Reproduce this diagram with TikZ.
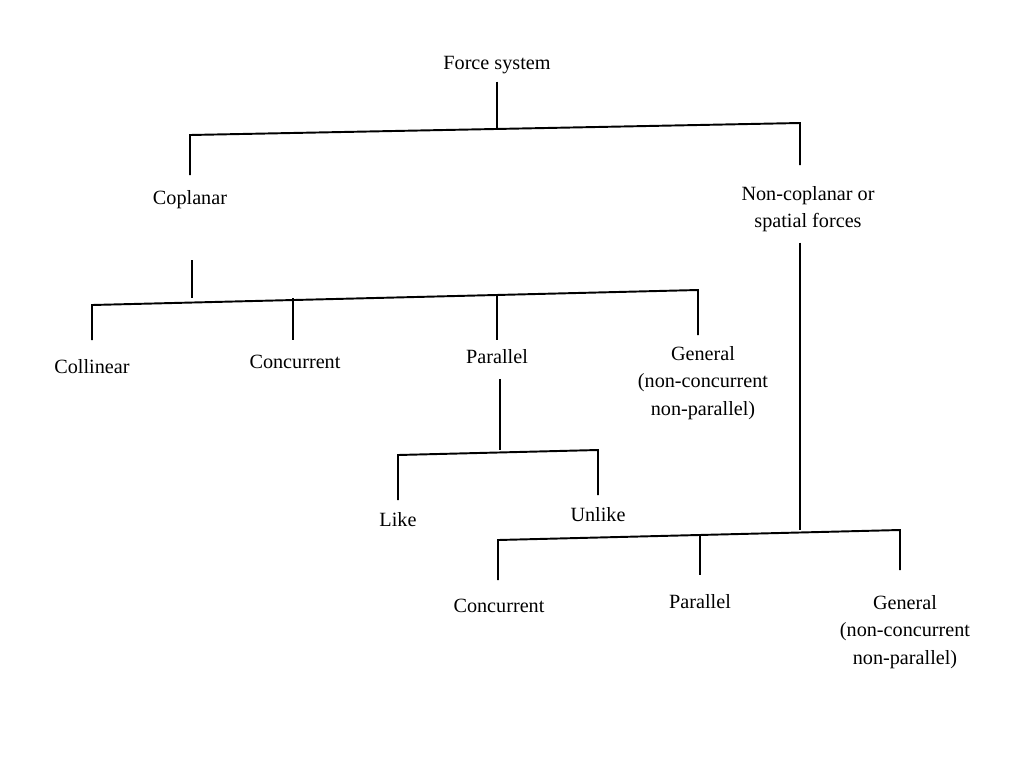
\documentclass[tikz,border=0pt]{standalone}
\usepackage{fontspec}
\setmainfont{Liberation Serif}
\begin{document}
\begin{tikzpicture}[x=0.02cm,y=-0.02cm,
  lbl/.style={align=center,inner sep=1pt,font=\fontsize{11.5}{15.5}\selectfont},
  line width=1.1pt]
\useasboundingbox (0,0) rectangle (1024,768);
\node [lbl] (fs) at (497,65) {Force system};
\node [lbl] (cop) at (190,200) {Coplanar};
\node [lbl] (ncp) at (808,209) {Non-coplanar or\\spatial forces};
\node [lbl] (col) at (92,367) {Collinear};
\node [lbl] (con) at (295,362) {Concurrent};
\node [lbl] (par) at (497,357) {Parallel};
\node [lbl] (gen) at (703,383) {General\\(non-concurrent\\non-parallel)};
\node [lbl] (lik) at (398,520) {Like};
\node [lbl] (unl) at (598,515) {Unlike};
\node [lbl] (scon) at (499,606) {Concurrent};
\node [lbl] (spar) at (700,602) {Parallel};
\node [lbl] (sgen) at (905,632) {General\\(non-concurrent\\non-parallel)};
% first level
\draw (fs.south) ++(0,5) -- (497,129);
\draw (190,175) -- (190,135) -- (800,123) -- (800,165);
% coplanar
\draw (192,260) -- (192,298);
\draw (92,340) -- (92,305) -- (698,290) -- (698,335);
\draw (293,298) -- (293,340);
\draw (497,295) -- (497,340);
% parallel
\draw (par.south) ++(3,12) -- (500,450);
\draw (398,500) -- (398,455) -- (598,450) -- (598,495);
% spatial
\draw (ncp.south) ++(-8,8) -- (800,530);
\draw (498,580) -- (498,540) -- (900,530) -- (900,570);
\draw (700,535) -- (700,575);
\end{tikzpicture}
\end{document}
